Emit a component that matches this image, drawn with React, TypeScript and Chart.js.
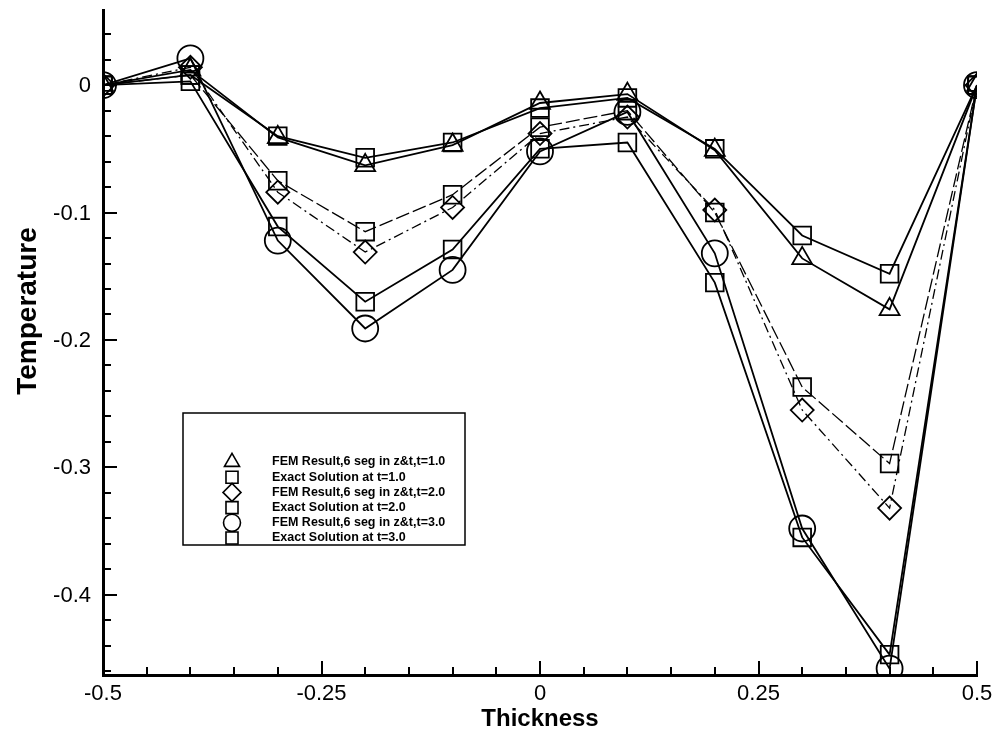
import React, { useEffect, useRef } from "react";
import { Chart, registerables } from "chart.js";

Chart.register(...registerables);

// ---- data ----
const thickness = [-0.5, -0.4, -0.3, -0.2, -0.1, 0, 0.1, 0.2, 0.3, 0.4, 0.5];
const femT1 = [0, 0.012, -0.041, -0.063, -0.047, -0.014, -0.007, -0.051, -0.136, -0.176, 0];
const exactT1 = [0, 0.008, -0.04, -0.057, -0.045, -0.018, -0.01, -0.05, -0.118, -0.148, 0];
const femT2 = [0, 0.014, -0.084, -0.131, -0.096, -0.038, -0.025, -0.098, -0.255, -0.332, 0];
const exactT2 = [0, 0.008, -0.075, -0.115, -0.086, -0.033, -0.02, -0.1, -0.237, -0.297, 0];
const femT3 = [0, 0.021, -0.122, -0.191, -0.145, -0.052, -0.021, -0.132, -0.348, -0.458, 0];
const exactT3 = [0, 0.003, -0.111, -0.17, -0.129, -0.05, -0.045, -0.155, -0.355, -0.447, 0];

const seriesLabels = [
  "FEM Result,6 seg in z&t,t=1.0",
  "Exact Solution at t=1.0",
  "FEM Result,6 seg in z&t,t=2.0",
  "Exact Solution at t=2.0",
  "FEM Result,6 seg in z&t,t=3.0",
  "Exact Solution at t=3.0",
];

const xTitle = "Thickness";
const yTitle = "Temperature";

const xMajorTicks = [-0.5, -0.25, 0, 0.25, 0.5];
const xMajorLabels = ["-0.5", "-0.25", "0", "0.25", "0.5"];
const xAllTicks = [-0.5, -0.45, -0.4, -0.35, -0.3, -0.25, -0.2, -0.15, -0.1, -0.05, 0, 0.05, 0.1, 0.15, 0.2, 0.25, 0.3, 0.35, 0.4, 0.45, 0.5];
const yMajorTicks = [0, -0.1, -0.2, -0.3, -0.4];
const yMajorLabels = ["0", "-0.1", "-0.2", "-0.3", "-0.4"];
const yAllTicks = [0.04, 0.02, 0, -0.02, -0.04, -0.06, -0.08, -0.1, -0.12, -0.14, -0.16, -0.18, -0.2, -0.22, -0.24, -0.26, -0.28, -0.3, -0.32, -0.34, -0.36, -0.38, -0.4, -0.42, -0.44, -0.46];

const near = (a: number, b: number) => Math.abs(a - b) < 1e-6;
const FONT = "'Liberation Sans', Arial, sans-serif";

function drawMarker(ctx: CanvasRenderingContext2D, style: string, x: number, y: number, r: number) {
  ctx.beginPath();
  if (style === "triangle") {
    const half = (r * Math.sqrt(3)) / 2;
    ctx.moveTo(x, y - r);
    ctx.lineTo(x + half, y + r / 2);
    ctx.lineTo(x - half, y + r / 2);
    ctx.closePath();
  } else if (style === "rect") {
    const s = Math.SQRT1_2 * r;
    ctx.rect(x - s, y - s, 2 * s, 2 * s);
  } else if (style === "rectRot") {
    ctx.moveTo(x, y - r);
    ctx.lineTo(x + r, y);
    ctx.lineTo(x, y + r);
    ctx.lineTo(x - r, y);
    ctx.closePath();
  } else {
    ctx.arc(x, y, r, 0, Math.PI * 2);
  }
  ctx.stroke();
}

const markerStyles = ["triangle", "rect", "rectRot", "rect", "circle", "rect"];
const markerRadii = [11.5, 12.5, 11.5, 12.5, 13, 12.5];
const legendRadii = [8.7, 8.5, 9, 8.5, 8.5, 8.5];

const axisDecor = {
  id: "axisDecor",
  afterDraw(chart: any) {
    const { ctx, chartArea, scales } = chart;
    const xs = scales.x;
    const ys = scales.y;
    ctx.save();
    ctx.strokeStyle = "#000";
    ctx.lineWidth = 2;
    xAllTicks.forEach((v) => {
      const px = Math.round(xs.getPixelForValue(v));
      const major = xMajorTicks.some((m) => near(m, v));
      ctx.beginPath();
      ctx.moveTo(px, chartArea.bottom);
      ctx.lineTo(px, chartArea.bottom - (major ? 14 : 8));
      ctx.stroke();
    });
    yAllTicks.forEach((v) => {
      const py = Math.round(ys.getPixelForValue(v));
      const major = yMajorTicks.some((m) => near(m, v));
      ctx.beginPath();
      ctx.moveTo(chartArea.left, py);
      ctx.lineTo(chartArea.left + (major ? 14 : 8), py);
      ctx.stroke();
    });
    // y tick labels
    ctx.fillStyle = "#000";
    ctx.font = `22px ${FONT}`;
    ctx.textAlign = "right";
    ctx.textBaseline = "middle";
    yMajorTicks.forEach((v, i) => {
      ctx.fillText(yMajorLabels[i], chartArea.left - 12, ys.getPixelForValue(v) + 1);
    });
    // y axis title (placed slightly above centre, as in the original)
    ctx.save();
    ctx.translate(28, chartArea.top + 301);
    ctx.rotate(-Math.PI / 2);
    ctx.font = `bold 28px ${FONT}`;
    ctx.textAlign = "center";
    ctx.textBaseline = "middle";
    ctx.fillText(yTitle, 0, 0);
    ctx.restore();
    ctx.restore();
  },
};

const boxLegend = {
  id: "boxLegend",
  afterDraw(chart: any) {
    const { ctx, chartArea } = chart;
    const left = chartArea.left + 80;
    const top = chartArea.top + 403;
    const w = 282;
    const h = 132;
    ctx.save();
    ctx.fillStyle = "#fff";
    ctx.fillRect(left, top, w, h);
    ctx.strokeStyle = "#000";
    ctx.lineWidth = 1.5;
    ctx.strokeRect(left, top, w, h);
    ctx.font = `bold 12.5px ${FONT}`;
    ctx.fillStyle = "#000";
    ctx.textBaseline = "middle";
    seriesLabels.forEach((lab, i) => {
      const y = top + 49 + i * 15.2;
      ctx.lineWidth = 1.6;
      drawMarker(ctx, markerStyles[i], left + 49, y, legendRadii[i]);
      ctx.fillText(lab, left + 89, y);
    });
    ctx.restore();
  },
};

const seriesValues = [femT1, exactT1, femT2, exactT2, femT3, exactT3];
const dashes = [[], [], [10, 4, 2, 4], [14, 4], [], []];
const widths = [1.8, 1.8, 1.3, 1.3, 1.8, 1.8];

export default function App() {
  const ref = useRef<HTMLCanvasElement | null>(null);
  useEffect(() => {
    document.body.style.margin = "0";
    const canvas = ref.current;
    if (!canvas) return;
    const chart = new Chart(canvas, {
      type: "line",
      data: {
        datasets: seriesValues.map((vals, i) => ({
          label: seriesLabels[i],
          data: thickness.map((x, k) => ({ x, y: vals[k] })),
          borderColor: "#000",
          backgroundColor: "rgba(0,0,0,0)",
          borderWidth: widths[i],
          borderDash: dashes[i],
          pointStyle: markerStyles[i] as any,
          pointRadius: markerRadii[i],
          pointBorderWidth: 1.8,
          pointBorderColor: "#000",
          pointBackgroundColor: "rgba(0,0,0,0)",
          tension: 0,
        })),
      },
      options: {
        responsive: false,
        animation: false,
        devicePixelRatio: 1,
        layout: { autoPadding: false, padding: { top: 10, right: 20, left: 0, bottom: 0 } },
        plugins: { legend: { display: false }, tooltip: { enabled: false } },
        scales: {
          x: {
            type: "linear",
            min: -0.5,
            max: 0.5,
            grid: { display: false },
            border: { display: true, color: "#000", width: 3 },
            afterBuildTicks: (s: any) => {
              s.ticks = xAllTicks.map((v) => ({ value: v }));
            },
            afterFit: (s: any) => {
              s.height = 65;
            },
            ticks: {
              autoSkip: false,
              maxRotation: 0,
              padding: -2,
              color: "#000",
              font: { family: FONT, size: 22 },
              callback: (v: any) => {
                const idx = xMajorTicks.findIndex((m) => near(m, Number(v)));
                return idx >= 0 ? xMajorLabels[idx] : "";
              },
            },
            title: {
              display: true,
              text: xTitle,
              color: "#000",
              font: { family: FONT, size: 24, weight: "bold" },
              padding: { top: 0, bottom: 6 },
            },
          },
          y: {
            type: "linear",
            min: -0.463,
            max: 0.059,
            grid: { display: false },
            border: { display: true, color: "#000", width: 3 },
            afterBuildTicks: (s: any) => {
              s.ticks = yAllTicks.map((v) => ({ value: v }));
            },
            afterFit: (s: any) => {
              s.width = 103;
            },
            ticks: { display: false },
            title: { display: false },
          },
        },
      },
      plugins: [axisDecor, boxLegend],
    });
    return () => chart.destroy();
  }, []);
  return (
    <div style={{ width: 997, height: 740, background: "#fff" }}>
      <canvas ref={ref} width={997} height={740} style={{ display: "block" }} />
    </div>
  );
}
